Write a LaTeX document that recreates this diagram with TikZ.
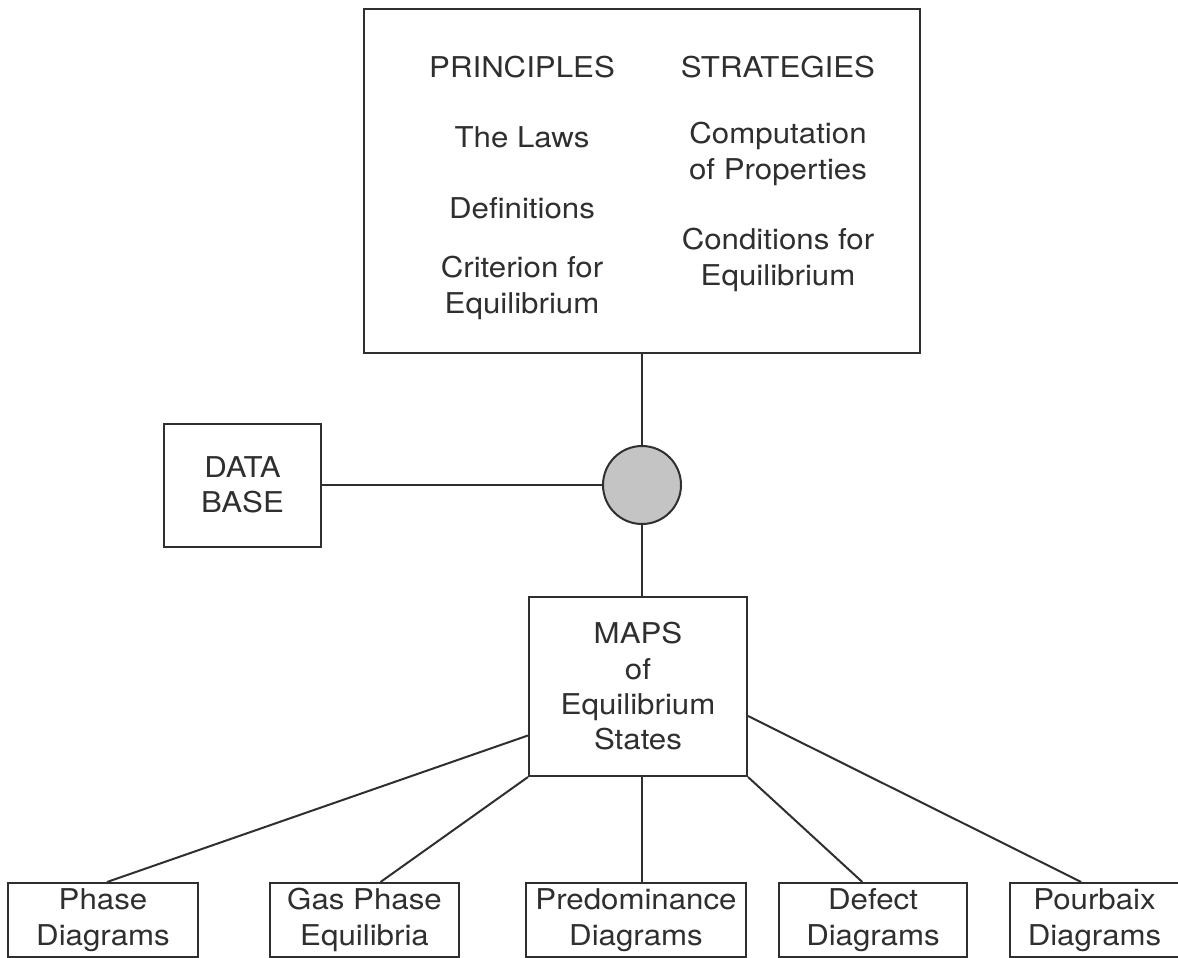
\documentclass[tikz,border=0pt]{standalone}
\usepackage{fontspec}
\setmainfont{TeX Gyre Heros}[FakeStretch=1.09]
\usepackage{xcolor}
\usepackage{tikz}
\usetikzlibrary{positioning}
\definecolor{ink}{HTML}{2F2F2F}
\definecolor{hubgray}{HTML}{C4C4C4}

\begin{document}
\begin{tikzpicture}[x=0.75pt, y=-0.75pt, line width=1.5pt, color=ink,
    every node/.style={font=\fontsize{21.5}{26.5}\selectfont, align=center, inner sep=0pt},
    box/.style={draw, rectangle, fill=white},
    leaf/.style={box, minimum height=55.5pt},
    hub/.style={draw, circle, fill=hubgray, minimum size=58.5pt}]
    \useasboundingbox (0,0) rectangle (1178,957);

    % Main components
    \node[hub] (hub) at (642,485) {};
    \node[box, minimum width=417pt, minimum height=258pt, above=68.25pt of hub] (top) {};
    \node[box, minimum width=117.75pt, minimum height=92.25pt, left=210pt of hub] (db) {DATA\\BASE};
    \node[box, minimum width=163.5pt, minimum height=134.25pt, below=53.25pt of hub, xshift=-3pt] (maps) {MAPS\\of\\Equilibrium\\States};

    % Contents of the upper box
    \node (princ) at (522,67) {PRINCIPLES};
    \node (laws) at (522,137) {The Laws};
    \node (defs) at (522,208) {Definitions};
    \node (crit) at (522,288) {Criterion for\\Equilibrium};
    \node (strat) at (778,67) {STRATEGIES};
    \node (comp) at (778,154) {Computation\\of Properties};
    \node (cond) at (778,260) {Conditions for\\Equilibrium};

    % Kinds of maps
    \node[leaf, minimum width=165pt, below=78.75pt of maps, xshift=-1.5pt] (pred) {Predominance\\Diagrams};
    \node[leaf, minimum width=141.75pt, left=48.75pt of pred] (gas) {Gas Phase\\Equilibria};
    \node[leaf, minimum width=142.5pt, left=52.5pt of gas] (phase) {Phase\\Diagrams};
    \node[leaf, minimum width=141pt, right=23.25pt of pred] (defect) {Defect\\Diagrams};
    \node[leaf, minimum width=126.75pt, right=30.75pt of defect] (pourbaix) {Pourbaix\\Diagrams};

    % Connections
    \draw (top.south -| hub) -- (hub);
    \draw (db) -- (hub);
    \draw (hub) -- (hub |- maps.north);
    \draw (maps.204) -- ([xshift=3pt]phase.north);
    \draw (maps.south west) -- ([xshift=12pt]gas.north);
    \draw (hub |- maps.south) -- (hub |- pred.north);
    \draw (maps.south east) -- ([xshift=-8pt]defect.north);
    \draw (maps.345) -- ([xshift=-10pt]pourbaix.north);
\end{tikzpicture}
\end{document}
